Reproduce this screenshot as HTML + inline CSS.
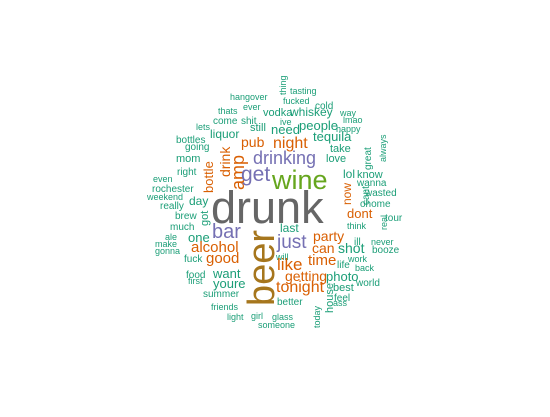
<!DOCTYPE html>
<html><head><meta charset="utf-8"><style>
html,body{margin:0;padding:0;background:#fff}
svg text{font-family:"Liberation Sans",Arial,sans-serif}
</style></head><body>
<svg id="cloud" width="550" height="412" viewBox="0 0 550 412" xmlns="http://www.w3.org/2000/svg"></svg>
<script>
const words=["hangover","thing","ever","thats","come","shit","vodka","whiskey","fucked","tasting","cold","way","ive","lmao","lets","liquor","still","need","people","happy","bottles","pub","night","tequila","going","drink","amp","drinking","take","love","mom","lol","know","great","always","get","right","bottle","wine","even","rochester","weekend","really","day","wanna","now","wasted","cant","ohome","drunk","got","brew","much","ale","make","gonna","fuck","one","bar","alcohol","good","beer","dont","real","tour","think","last","just","party","ill","never","can","shot","booze","will","like","time","life","work","back","food","first","want","youre","getting","photo","best","house","world","tonight","feel","ass","summer","friends","better","glass","girl","light","today","someone"];
const sizes=[9,9,9,9,10,10,11,12,9,9,10,9,9,9,9,12,11,13,13,9,10,14,16,13,10,14,18,18,11,11,11,12,11,10,9,21,10,13,27,9,10,9,10,12,10,12,10,10,10,45,11,10,10,9,9,9,10,13,20,15,15,38,13,9,10,9,12,19,14,10,9,14,14,10,9,17,15,10,9,9,10,9,13,13,14,13,11,11,10,16,10,9,10,9,10,9,9,9,9,9];
const colors=["t","t","t","t","t","t","t","t","t","t","t","t","t","t","t","t","t","t","t","t","t","o","o","t","t","o","o","p","t","t","t","t","t","t","t","p","t","o","g","t","t","t","t","t","t","o","t","t","t","k","t","t","t","t","t","t","t","t","p","o","o","y","o","t","t","t","t","p","o","t","t","o","t","t","t","o","o","t","t","t","t","t","t","t","o","t","t","t","t","o","t","t","t","t","t","t","t","t","t","t"];
const xs=[230,286,243,218,213,241,263,290,283,290,315,340,280,343,196,210,250,271,299,336,176,241,273,313,185,230,244,253,330,326,176,343,357,371,386,241,177,213,272,153,152,147,160,189,357,351,365,369,360,211,208,175,170,165,155,155,184,188,212,191,206,274,347,387,385,347,280,277,313,354,371,312,338,372,276,277,308,337,348,355,186,188,213,213,285,326,333,333,356,276,334,333,203,211,277,272,251,227,320,258];
const ys=[100,95,110,114,124,124,116,116,104,94,109,116,125,123,130,138,131,134,130,132,143,147,148,141,150,177,190,164,152,162,162,178,178,170,162,181,175,193,189,182,192,200,209,205,186,205,196,205,207,223,226,219,230,240,247,254,262,242,238,252,263,306,218,230,221,229,232,248,241,245,245,253,253,253,260,270,265,268,262,271,278,284,278,288,281,281,291,313,286,292,301,306,297,310,305,320,319,320,328,328];
const vertical=["thing","drink","amp","great","always","bottle","now","cant","got","beer","real","house","today"];
const pal={t:"#1b9e77",o:"#d95f02",p:"#7570b3",g:"#66a61e",y:"#a6761d",k:"#666666"};
const svg=document.getElementById('cloud');
words.forEach((w,i)=>{
  const t=document.createElementNS('http://www.w3.org/2000/svg','text');
  
  
  t.setAttribute('font-size',sizes[i]);
  t.setAttribute('fill',pal[colors[i]]);
  if(vertical.includes(w)){
    t.setAttribute('transform','translate('+xs[i]+','+ys[i]+') rotate(-90)');
  }else{
    t.setAttribute('x',xs[i]);t.setAttribute('y',ys[i]);
  }
  t.textContent=w;
  svg.appendChild(t);
});
</script>
</body></html>
